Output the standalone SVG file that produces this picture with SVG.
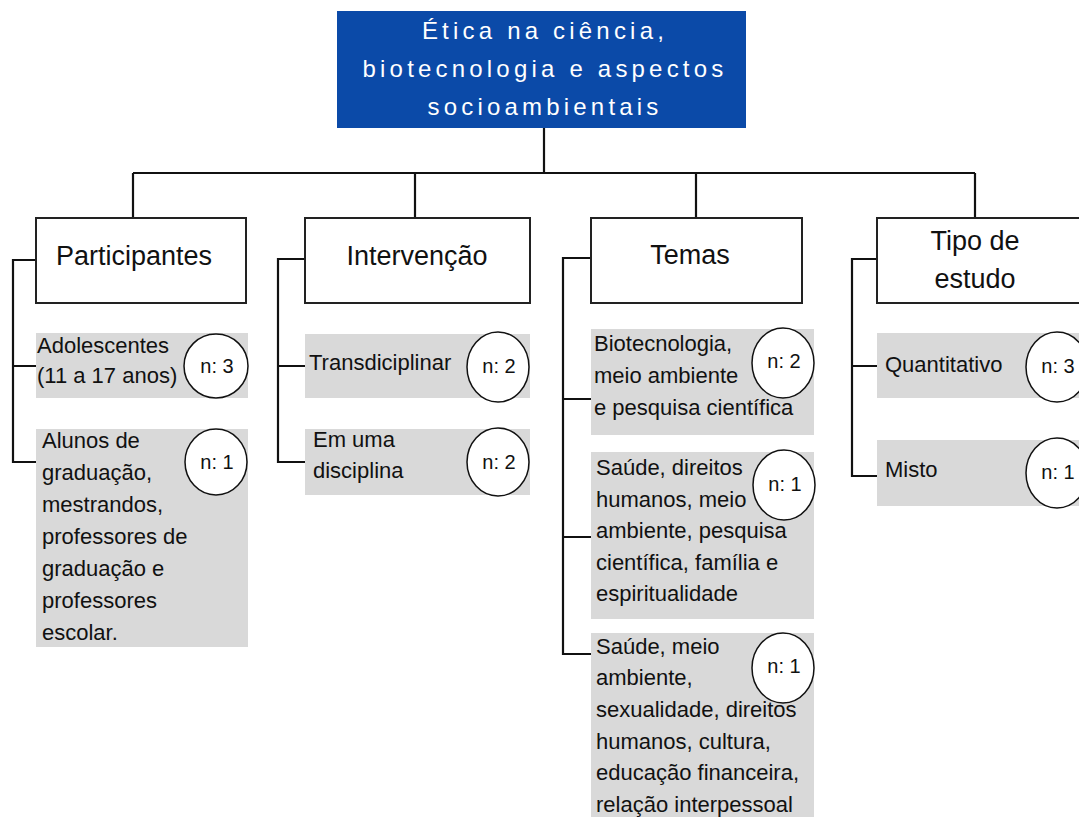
<svg xmlns="http://www.w3.org/2000/svg" width="1079" height="817" viewBox="0 0 1079 817">
<style>
.conn{fill:none;stroke:#111;stroke-width:2.2}
.hdr{fill:#fff;stroke:#222;stroke-width:2}
.hdrt{font-family:"Liberation Sans",Arial,sans-serif;font-size:27px;fill:#111;text-anchor:middle}
.item{fill:#d9d9d9}
.t{font-family:"Liberation Sans",Arial,sans-serif;font-size:22px;fill:#111}
.circ{fill:#fff;stroke:#111;stroke-width:1.5}
.n{font-family:"Liberation Sans",Arial,sans-serif;font-size:20px;fill:#111;text-anchor:middle}
.title{font-family:"Liberation Sans",Arial,sans-serif;font-size:24px;fill:#fff;text-anchor:middle;letter-spacing:4.2px}
</style>
<rect width="1079" height="817" fill="#fff"/>
<g id="connectors">
<path class="conn" d="M544 128V173M133 173H975M133 173V218M415 173V218M696 173V218M975 173V218"/>
<path class="conn" d="M36 260H13V462H36M13 366H36"/>
<path class="conn" d="M305 259H278V462H305M278 366H305"/>
<path class="conn" d="M591 258H563V654H591M563 399H591M563 537H591"/>
<path class="conn" d="M877 259H852V476H877M852 366H877"/>
</g>
<g id="root">
<rect x="337" y="11" width="409" height="117" fill="#0b4aa8"/>
<text class="title" x="545" y="39">Ética na ciência,</text>
<text class="title" x="545" y="77">biotecnologia e aspectos</text>
<text class="title" x="545" y="115">socioambientais</text>
</g>
<g id="participantes">
<rect class="hdr" x="36" y="218" width="210" height="85"/>
<text class="hdrt" x="134" y="265">Participantes</text>
</g>
<g id="intervencao">
<rect class="hdr" x="305" y="218" width="225" height="85"/>
<text class="hdrt" x="417" y="265">Intervenção</text>
</g>
<g id="temas">
<rect class="hdr" x="591" y="218" width="211" height="85"/>
<text class="hdrt" x="690" y="264">Temas</text>
</g>
<g id="tipo">
<rect class="hdr" x="877" y="218" width="210" height="85"/>
<text class="hdrt" x="975" y="250">Tipo de</text>
<text class="hdrt" x="975" y="288">estudo</text>
</g>
<g id="adolescentes">
<rect class="item" x="36" y="333" width="212" height="65"/>
<text class="t" x="37" y="353">Adolescentes</text>
<text class="t" x="37" y="383">(11 a 17 anos)</text>
<ellipse class="circ" cx="216" cy="366" rx="32" ry="32"/>
<text class="n" x="217" y="373">n: 3</text>
</g>
<g id="alunos">
<rect class="item" x="36" y="429" width="212" height="218"/>
<text class="t" x="42" y="448">Alunos de</text>
<text class="t" x="42" y="480">graduação,</text>
<text class="t" x="42" y="512">mestrandos,</text>
<text class="t" x="42" y="544">professores de</text>
<text class="t" x="42" y="576">graduação e</text>
<text class="t" x="42" y="608">professores</text>
<text class="t" x="42" y="640">escolar.</text>
<ellipse class="circ" cx="216" cy="462" rx="31" ry="33"/>
<text class="n" x="217" y="469">n: 1</text>
</g>
<g id="transdiciplinar">
<rect class="item" x="305" y="334" width="225" height="64"/>
<text class="t" x="309" y="370">Transdiciplinar</text>
<ellipse class="circ" cx="498" cy="367" rx="31" ry="35"/>
<text class="n" x="499" y="373">n: 2</text>
</g>
<g id="disciplina">
<rect class="item" x="305" y="429" width="225" height="66"/>
<text class="t" x="313" y="447">Em uma</text>
<text class="t" x="313" y="478">disciplina</text>
<ellipse class="circ" cx="498" cy="462" rx="31" ry="34"/>
<text class="n" x="499" y="469">n: 2</text>
</g>
<g id="biotecnologia">
<rect class="item" x="591" y="329" width="223" height="106"/>
<text class="t" x="594" y="351">Biotecnologia,</text>
<text class="t" x="594" y="383">meio ambiente</text>
<text class="t" x="594" y="415">e pesquisa científica</text>
<ellipse class="circ" cx="783" cy="363" rx="31" ry="35"/>
<text class="n" x="784" y="368">n: 2</text>
</g>
<g id="saude1">
<rect class="item" x="591" y="452" width="223" height="167"/>
<text class="t" x="596" y="475">Saúde, direitos</text>
<text class="t" x="596" y="507">humanos, meio</text>
<text class="t" x="596" y="538">ambiente, pesquisa</text>
<text class="t" x="596" y="570">científica, família e</text>
<text class="t" x="596" y="601">espiritualidade</text>
<ellipse class="circ" cx="784" cy="485" rx="31" ry="35"/>
<text class="n" x="785" y="491">n: 1</text>
</g>
<g id="saude2">
<rect class="item" x="591" y="633" width="223" height="184"/>
<text class="t" x="596" y="654">Saúde, meio</text>
<text class="t" x="596" y="685">ambiente,</text>
<text class="t" x="596" y="717">sexualidade, direitos</text>
<text class="t" x="596" y="749">humanos, cultura,</text>
<text class="t" x="596" y="780">educação financeira,</text>
<text class="t" x="596" y="812">relação interpessoal</text>
<ellipse class="circ" cx="783" cy="668" rx="31" ry="35"/>
<text class="n" x="784" y="673">n: 1</text>
</g>
<g id="quantitativo">
<rect class="item" x="877" y="333" width="210" height="65"/>
<text class="t" x="885" y="372">Quantitativo</text>
<ellipse class="circ" cx="1057" cy="367" rx="31" ry="35"/>
<text class="n" x="1058" y="373">n: 3</text>
</g>
<g id="misto">
<rect class="item" x="877" y="440" width="210" height="66"/>
<text class="t" x="885" y="477">Misto</text>
<ellipse class="circ" cx="1057" cy="473" rx="31" ry="35"/>
<text class="n" x="1058" y="479">n: 1</text>
</g>
</svg>
